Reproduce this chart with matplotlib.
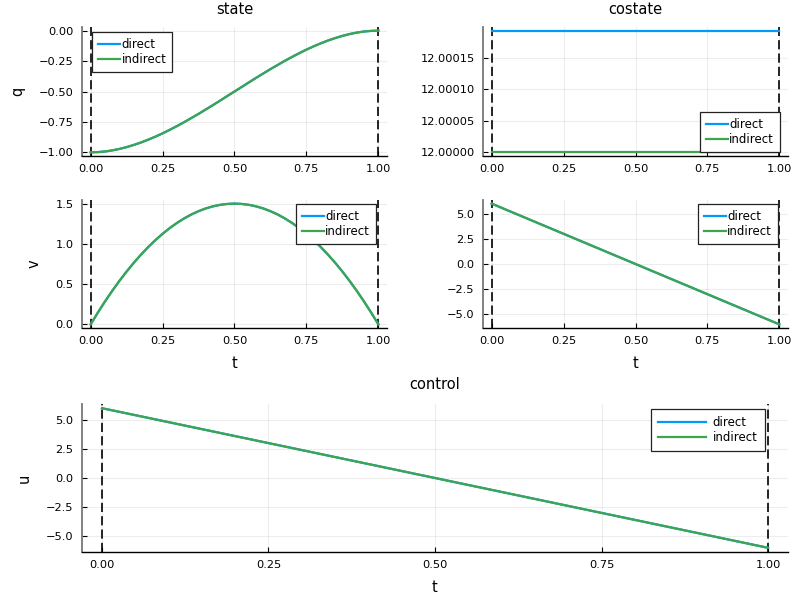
import matplotlib
matplotlib.use("Agg")
import matplotlib.pyplot as plt

# values
t = [0.000, 0.025, 0.050, 0.075, 0.100, 0.125, 0.150, 0.175, 0.200, 0.225,
     0.250, 0.275, 0.300, 0.325, 0.350, 0.375, 0.400, 0.425, 0.450, 0.475,
     0.500, 0.525, 0.550, 0.575, 0.600, 0.625, 0.650, 0.675, 0.700, 0.725,
     0.750, 0.775, 0.800, 0.825, 0.850, 0.875, 0.900, 0.925, 0.950, 0.975, 1.000]
q = [-1.000, -0.998, -0.993, -0.984, -0.972, -0.957, -0.939, -0.919, -0.896, -0.871,
     -0.844, -0.815, -0.784, -0.752, -0.718, -0.684, -0.648, -0.612, -0.575, -0.537,
     -0.500, -0.463, -0.425, -0.388, -0.352, -0.316, -0.282, -0.248, -0.216, -0.185,
     -0.156, -0.129, -0.104, -0.081, -0.061, -0.043, -0.028, -0.016, -0.007, -0.002, 0.000]
v = [0.000, 0.146, 0.285, 0.416, 0.540, 0.656, 0.765, 0.866, 0.960, 1.046,
     1.125, 1.196, 1.260, 1.316, 1.365, 1.406, 1.440, 1.466, 1.485, 1.496,
     1.500, 1.496, 1.485, 1.466, 1.440, 1.406, 1.365, 1.316, 1.260, 1.196,
     1.125, 1.046, 0.960, 0.866, 0.765, 0.656, 0.540, 0.416, 0.285, 0.146, 0.000]
t_lin = [0.0, 1.0]
p1_direct = [12.000193, 12.000193]
p1_indirect = [12.0, 12.0]
p2 = [6.0, -6.0]
u = [6.0, -6.0]

blue = "#009AFA"
green = "#3EA44E"

plt.rcParams["font.family"] = "DejaVu Sans"
fig = plt.figure(figsize=(8, 6), dpi=100)

W, H = 800, 600


def make_ax(left, top, right, bottom):
    return fig.add_axes([left / W, 1 - bottom / H, (right - left) / W, (bottom - top) / H])


def style(ax, ylo, yhi):
    ax.set_xlim(-0.03, 1.03)
    pad = (yhi - ylo) * 0.03
    ax.set_ylim(ylo - pad, yhi + pad)
    ax.set_xticks([0, 0.25, 0.5, 0.75, 1.0])
    ax.set_xticklabels(["0.00", "0.25", "0.50", "0.75", "1.00"])
    ax.grid(True, color="black", alpha=0.07, linewidth=0.8)
    ax.spines["top"].set_visible(False)
    ax.spines["right"].set_visible(False)
    ax.spines["left"].set_color("#777777")
    ax.spines["left"].set_linewidth(1.3)
    ax.spines["bottom"].set_color("black")
    ax.spines["bottom"].set_linewidth(1.0)
    ax.tick_params(direction="in", length=3.5, width=0.8, labelsize=8.2, colors="black", pad=6)
    for x in [0.0, 1.0]:
        ax.axvline(x, color="black", linestyle=(0, (5.5, 2.5)), linewidth=1.2, zorder=3)


def add_lines(ax, x, yd, yi, anchor, loc, big=False):
    ax.plot(x, yd, color=blue, linewidth=1.6, label="direct", zorder=4)
    ax.plot(x, yi, color=green, linewidth=1.6, label="indirect", zorder=5)
    if big:
        leg = ax.legend(loc=loc, bbox_to_anchor=anchor, fontsize=8.5, fancybox=False,
                        framealpha=1, edgecolor="#222222", borderpad=0.6,
                        handlelength=4.1, handletextpad=0.55, labelspacing=0.15,
                        borderaxespad=0)
    else:
        leg = ax.legend(loc=loc, bbox_to_anchor=anchor, fontsize=8.5, fancybox=False,
                        framealpha=1, edgecolor="#222222", borderpad=0.5,
                        handlelength=1.9, handletextpad=0.1, labelspacing=0.15,
                        borderaxespad=0)
    leg.get_frame().set_linewidth(0.9)
    leg.set_zorder(10)


# state q
ax_q = make_ax(82, 27, 387, 156)
style(ax_q, -1.0, 0.0)
add_lines(ax_q, t, q, q, (0.033, 0.961), "upper left")
ax_q.set_yticks([-1.0, -0.75, -0.5, -0.25, 0.0])
ax_q.set_yticklabels(["\u22121.00", "\u22120.75", "\u22120.50", "\u22120.25", "0.00"])
ax_q.set_ylabel("q", fontsize=10.5, labelpad=10)
ax_q.set_title("state", fontsize=10.5, pad=9)

# costate p1
ax_p1 = make_ax(483, 27, 788, 156)
style(ax_p1, 12.0, 12.000193)
add_lines(ax_p1, t_lin, p1_direct, p1_indirect, (0.974, 0.031), "lower right")
ax_p1.set_yticks([12.0, 12.00005, 12.0001, 12.00015])
ax_p1.set_yticklabels(["12.00000", "12.00005", "12.00010", "12.00015"])
ax_p1.set_title("costate", fontsize=10.5, pad=9)

# state v
ax_v = make_ax(82, 200, 387, 328)
style(ax_v, 0.0, 1.5)
add_lines(ax_v, t, v, v, (0.964, 0.969), "upper right")
ax_v.set_yticks([0.0, 0.5, 1.0, 1.5])
ax_v.set_yticklabels(["0.0", "0.5", "1.0", "1.5"])
ax_v.set_ylabel("v", fontsize=10.5, labelpad=10)
ax_v.set_xlabel("t", fontsize=10.5, labelpad=7)

# costate p2
ax_p2 = make_ax(483, 200, 788, 328)
style(ax_p2, -6.0, 6.0)
add_lines(ax_p2, t_lin, p2, p2, (0.967, 0.969), "upper right")
ax_p2.set_yticks([-5.0, -2.5, 0.0, 2.5, 5.0])
ax_p2.set_yticklabels(["\u22125.0", "\u22122.5", "0.0", "2.5", "5.0"])
ax_p2.set_xlabel("t", fontsize=10.5, labelpad=7)

# control u
ax_u = make_ax(82, 404, 788, 552)
style(ax_u, -6.0, 6.0)
add_lines(ax_u, t_lin, u, u, (0.967, 0.966), "upper right", big=True)
ax_u.set_yticks([-5.0, -2.5, 0.0, 2.5, 5.0])
ax_u.set_yticklabels(["\u22125.0", "\u22122.5", "0.0", "2.5", "5.0"])
ax_u.set_ylabel("u", fontsize=10.5, labelpad=10)
ax_u.set_xlabel("t", fontsize=10.5, labelpad=7)
ax_u.set_title("control", fontsize=10.5, pad=11)

fig.savefig("out.png", dpi=100)
